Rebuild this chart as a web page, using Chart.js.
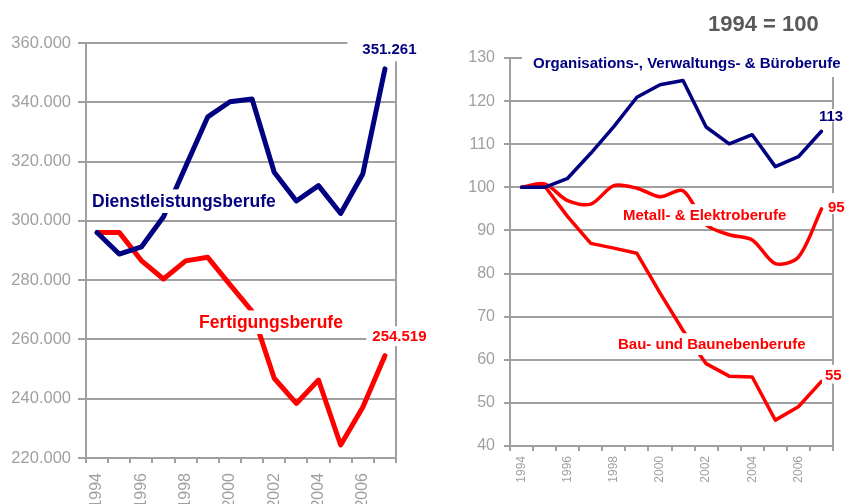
<!DOCTYPE html>
<html>
<head>
<meta charset="utf-8">
<script src="https://cdn.jsdelivr.net/npm/chart.js@4.4.1/dist/chart.umd.min.js"></script>
<style>
  html, body { margin: 0; padding: 0; background: #fff; overflow: hidden; }
  .box { position: absolute; top: 0; height: 504px; }
</style>
</head>
<body>
<div class="box" style="left:0;width:430px"><canvas id="leftChart"></canvas></div>
<div class="box" style="left:430px;width:415px"><canvas id="rightChart"></canvas></div>
<script>
// Data
const years = ['1994', '1995', '1996', '1997', '1998', '1999', '2000', '2001', '2002', '2003', '2004', '2005', '2006', '2007'];

// left: absolute numbers
const dienstleistung = [296100, 288800, 291200, 301400, 318300, 335100, 340200, 341100, 316400, 306700, 311900, 302500, 315800, 351261];
const fertigung = [296100, 296100, 286600, 280400, 286500, 287700, 278500, 269500, 246900, 238400, 246300, 224400, 237100, 254519];

// right: index 1994 = 100
const buero = [100, 100, 102.1, 107.9, 114.1, 120.9, 123.8, 124.8, 114, 110.1, 112.2, 104.8, 107.1, 113];
const metall = [100, 100.8, 96.9, 96.1, 100.4, 99.8, 97.8, 99.2, 91.3, 89, 87.8, 82.3, 83.8, 95];
const bau = [100, 100.3, 93.2, 87, 85.9, 84.7, 75.5, 66.8, 59.1, 56.2, 56, 46, 49.1, 55];

const NAVY = '#000080';
const RED = '#ff0000';
const GRID = '#a0a0a0';
const TICK = '#a0a0a0';

Chart.defaults.font.family = "'Liberation Sans', Arial, sans-serif";
Chart.defaults.animation = false;

function fmtThousands(v) {
    return String(v).replace(/\B(?=(\d{3})+(?!\d))/g, '.');
}

// Draws the right frame line and the text labels (with white boxes behind)
const overlay = {
    id: 'overlay',
    beforeDatasetsDraw(chart) {
        const a = chart.chartArea;
        const ctx = chart.ctx;
        ctx.save();
        ctx.strokeStyle = GRID;
        ctx.lineWidth = 2;
        ctx.beginPath();
        ctx.moveTo(Math.round(a.right), a.top);
        ctx.lineTo(Math.round(a.right), a.bottom);
        ctx.stroke();
        ctx.restore();
    },
    afterDatasetsDraw(chart, args, opts) {
        const ctx = chart.ctx;
        ctx.save();
        (opts.labels || []).forEach(l => {
            let x = l.x, y = l.y;
            if (l.ds !== undefined) {
                const pt = chart.getDatasetMeta(l.ds).data[l.index];
                x = pt.x + l.dx;
                y = pt.y + l.dy;
            }
            ctx.font = 'bold ' + l.size + "px 'Liberation Sans', Arial, sans-serif";
            const w = ctx.measureText(l.text).width;
            const p = l.pad || [4, 5, 4, 6];
            if (l.bg !== false) {
                ctx.fillStyle = '#fff';
                ctx.fillRect(x - p[0], y - l.size * 0.72 - p[1], w + p[0] + p[2], l.size * 0.72 + p[1] + p[3]);
            }
            ctx.fillStyle = l.color;
            ctx.textBaseline = 'alphabetic';
            ctx.textAlign = 'left';
            ctx.fillText(l.text, x, y);
        });
        ctx.restore();
    }
};

function lineSet(data, color, width, tension) {
    return {
        data: data,
        borderColor: color,
        borderWidth: width,
        pointRadius: 0,
        tension: tension || 0,
        borderJoinStyle: 'round',
        borderCapStyle: 'round',
        fill: false
    };
}

function xScale(fontSize, pad, height) {
    return {
        offset: true,
        grid: { drawOnChartArea: false, drawTicks: true, tickLength: 5, color: GRID, lineWidth: 2, offset: true },
        border: { color: GRID, width: 2 },
        ticks: {
            autoSkip: false, minRotation: 90, maxRotation: 90, padding: pad,
            color: TICK, font: { size: fontSize },
            callback: (v, i) => (i % 2 === 0 ? years[i] : '')
        },
        afterFit: s => { s.height = height; }
    };
}

// Left chart
new Chart(document.getElementById('leftChart'), {
    type: 'line',
    data: {
        labels: years,
        datasets: [
            lineSet(dienstleistung, NAVY, 5),
            lineSet(fertigung, RED, 5)
        ]
    },
    options: {
        responsive: true,
        maintainAspectRatio: false,
        layout: { padding: { left: 0, top: 43, right: 34, bottom: 0 } },
        plugins: {
            legend: { display: false },
            tooltip: { enabled: false },
            overlay: {
                labels: [
                    { text: 'Dienstleistungsberufe', size: 17.5, color: NAVY, x: 92, y: 207 },
                    { text: 'Fertigungsberufe', size: 17.5, color: RED, x: 199, y: 328 },
                    { text: '351.261', size: 15, color: NAVY, ds: 0, index: 13, dx: -22.6, dy: -14.6, pad: [15, 5, 10, 7] },
                    { text: '254.519', size: 15, color: RED, ds: 1, index: 13, dx: -12.6, dy: -14.6, pad: [6, 4, 6, 5] }
                ]
            }
        },
        scales: {
            x: xScale(16, 10, 46),
            y: {
                min: 220000,
                max: 360000,
                ticks: { stepSize: 20000, padding: 7, color: TICK, font: { size: 16.5 }, callback: v => fmtThousands(v) },
                grid: { color: GRID, lineWidth: 2, tickLength: 8 },
                border: { color: GRID, width: 2 },
                afterFit: s => { s.width = 86; }
            }
        }
    },
    plugins: [overlay]
});

// Right chart
new Chart(document.getElementById('rightChart'), {
    type: 'line',
    data: {
        labels: years,
        datasets: [
            lineSet(buero, NAVY, 3.5),
            lineSet(metall, RED, 3.5, 0.3),
            lineSet(bau, RED, 3.5)
        ]
    },
    options: {
        responsive: true,
        maintainAspectRatio: false,
        layout: { padding: { left: 0, top: 58, right: 12, bottom: 0 } },
        plugins: {
            legend: { display: false },
            tooltip: { enabled: false },
            overlay: {
                labels: [
                    { text: '1994 = 100', size: 22, color: '#595959', x: 278, y: 31, bg: false },
                    { text: 'Organisations-, Verwaltungs- & Büroberufe', size: 15, color: NAVY, x: 103, y: 68, pad: [11, 6, 4, 9] },
                    { text: 'Metall- & Elektroberufe', size: 15, color: RED, x: 193, y: 220 },
                    { text: 'Bau- und Baunebenberufe', size: 15, color: RED, x: 188, y: 349 },
                    { text: '113', size: 15, color: NAVY, ds: 0, index: 13, dx: -2.5, dy: -10.5, pad: [2, 1, 2, 1] },
                    { text: '95', size: 15, color: RED, ds: 1, index: 13, dx: 6.5, dy: 3, pad: [3, 8, 4, 2] },
                    { text: '55', size: 15, color: RED, ds: 2, index: 13, dx: 3.5, dy: -1.8, pad: [3, 4, 4, 4] }
                ]
            }
        },
        scales: {
            x: xScale(12, 5, 58),
            y: {
                min: 40,
                max: 130,
                ticks: { stepSize: 10, padding: 9, color: TICK, font: { size: 16 } },
                grid: { color: GRID, lineWidth: 2, tickLength: 6 },
                border: { color: GRID, width: 2 },
                afterFit: s => { s.width = 80; }
            }
        }
    },
    plugins: [overlay]
});
</script>
</body>
</html>
